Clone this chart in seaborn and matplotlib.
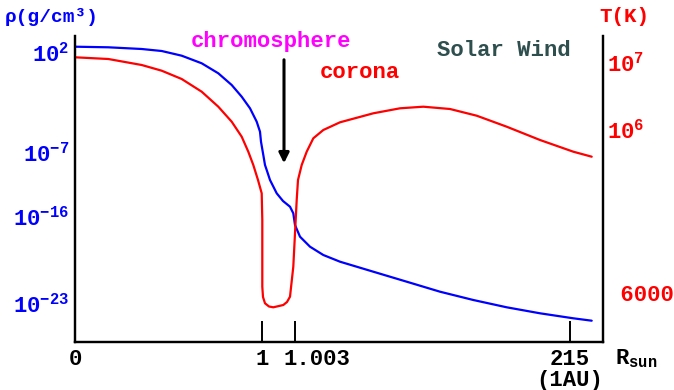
import numpy as np
import pandas as pd
import matplotlib
matplotlib.use('Agg')
import matplotlib.pyplot as plt
import seaborn as sb

# schematic drawing: x = distance along the drawn axis, h = height above the axis
dens_x = [0, 33.3, 66.7, 86.7, 106.7, 126.7, 143.3, 156.7, 166.7, 175, 181.7, 185, 186, 188.3,
          190, 191.7, 195, 201.7, 208, 215, 218.3, 220, 225, 235, 248.3, 265, 298.3, 331.7,
          365, 398.3, 431.7, 465, 498.3, 516.7]
dens_h = [295.3, 294.7, 293, 291, 286.3, 278.7, 268.7, 257, 245.3, 233.7, 220.3, 210.3, 200.3, 187,
          177, 172, 162, 148.7, 141, 135.3, 128.7, 117, 105.3, 95.3, 87, 80.3, 70.3, 60.3,
          50.3, 42, 34.7, 28.7, 23.7, 21.3]

temp_x = [0, 33.3, 66.7, 86.7, 106.7, 126.7, 143.3, 156.7, 166.7, 173.3, 178.3, 183, 186.7, 187.3,
          187.3, 188, 190, 194, 198.3, 208.3, 212, 215, 218.3, 220, 221.7, 223, 226.7, 231.7,
          238.3, 248.3, 265, 298.3, 325, 348.3, 375, 401.7, 431.7, 465, 498.3, 516.7]
temp_h = [284.7, 283, 277, 271.3, 263, 250.3, 235.3, 220.3, 205.3, 190.3, 177, 162, 148.7, 122,
          55.3, 45, 38.7, 35.5, 34.7, 37, 40, 45.3, 75.3, 108.7, 142, 162, 177, 190.3,
          203.7, 212, 219.7, 228.7, 233.7, 235.3, 233, 226.3, 215.3, 202, 190.3, 185.3]

x_ticks = [0, 187, 220, 495]
x_labels = ['0', '1', '', '215\n(1AU)']
x_extra_pos = [242]
x_extra_lab = ['1.003']

rho_ticks = [290, 190, 126, 39]
rho_labels = ['$\\mathregular{10^{2}}$', '$\\mathregular{10^{-7}}$',
              '$\\mathregular{10^{-16}}$', '$\\mathregular{10^{-23}}$']
t_ticks = [280, 213, 49]
t_labels = ['$\\mathregular{10^{7}}$', '$\\mathregular{10^{6}}$', ' 6000']

sb.set_style('white')
plt.rcParams['font.family'] = ['Liberation Mono', 'DejaVu Sans']
plt.rcParams['font.weight'] = 'bold'
plt.rcParams['mathtext.fontset'] = 'custom'
plt.rcParams['mathtext.rm'] = 'Liberation Mono:bold'
plt.rcParams['mathtext.it'] = 'Liberation Mono:bold'
plt.rcParams['mathtext.bf'] = 'Liberation Mono:bold'

blue = '#0000ff'
red = '#ff0000'
fs = 16

fig = plt.figure(figsize=(6.74, 3.9), dpi=100)
ax = fig.add_axes([75/674, 48/390, 528/674, 306/390])
ax2 = ax.twinx()

dens = pd.DataFrame({'x': dens_x, 'h': dens_h})
temp = pd.DataFrame({'x': temp_x, 'h': temp_h})
sb.lineplot(data=dens, x='x', y='h', sort=False, estimator=None, color=blue, lw=1.6, ax=ax)
sb.lineplot(data=temp, x='x', y='h', sort=False, estimator=None, color=red, lw=1.6, ax=ax2)

for a in (ax, ax2):
    a.set_xlim(0, 528)
    a.set_ylim(0, 306)
    a.set_xlabel('')
    a.set_ylabel('')
    a.spines['top'].set_visible(False)
    for s in ('left', 'right', 'bottom'):
        a.spines[s].set_color('black')
        a.spines[s].set_linewidth(1.6)

ax.set_xticks(x_ticks, x_labels)
ax.set_xticks(x_extra_pos, x_extra_lab, minor=True)
ax.tick_params(axis='x', which='major', bottom=True, direction='in', length=15, width=1.4, pad=5,
               labelsize=fs, color='black', labelcolor='black')
ax.tick_params(axis='x', which='minor', bottom=True, length=0, pad=5, labelsize=fs,
               labelcolor='black')
for lab in ax.get_xticklabels():
    lab.set_linespacing(1.0)

ax.set_yticks(rho_ticks, rho_labels)
ax.tick_params(axis='y', length=0, pad=4, labelsize=fs, labelcolor=blue)
ax2.set_yticks(t_ticks, t_labels)
ax2.tick_params(axis='y', length=0, pad=3, labelsize=fs, labelcolor=red)

ax.text(1.0227, -0.056, '$\\mathregular{R_{sun}}$', transform=ax.transAxes,
        ha='left', va='center', fontsize=fs, color='black', clip_on=False)
fig.text(5/674, 1 - 17/390, 'ρ(g/cm³)', ha='left', va='center', fontsize=14, color=blue)
fig.text(624/674, 1 - 17/390, 'T(K)', ha='center', va='center', fontsize=15, color=red)

ax.text(196.5, 300, 'chromosphere', ha='center', va='center', fontsize=fs, color='#ff00ff', clip_on=False)
ax.text(285, 269, 'corona', ha='center', va='center', fontsize=fs, color=red)
ax.text(429, 291, 'Solar Wind', ha='center', va='center', fontsize=fs, color='#2f4f4f')
ax.annotate('', xy=(209, 176), xytext=(209, 285),
            arrowprops=dict(arrowstyle='-|>,head_length=0.6,head_width=0.3', color='black', lw=2.2))

fig.savefig('out.png', dpi=100)
